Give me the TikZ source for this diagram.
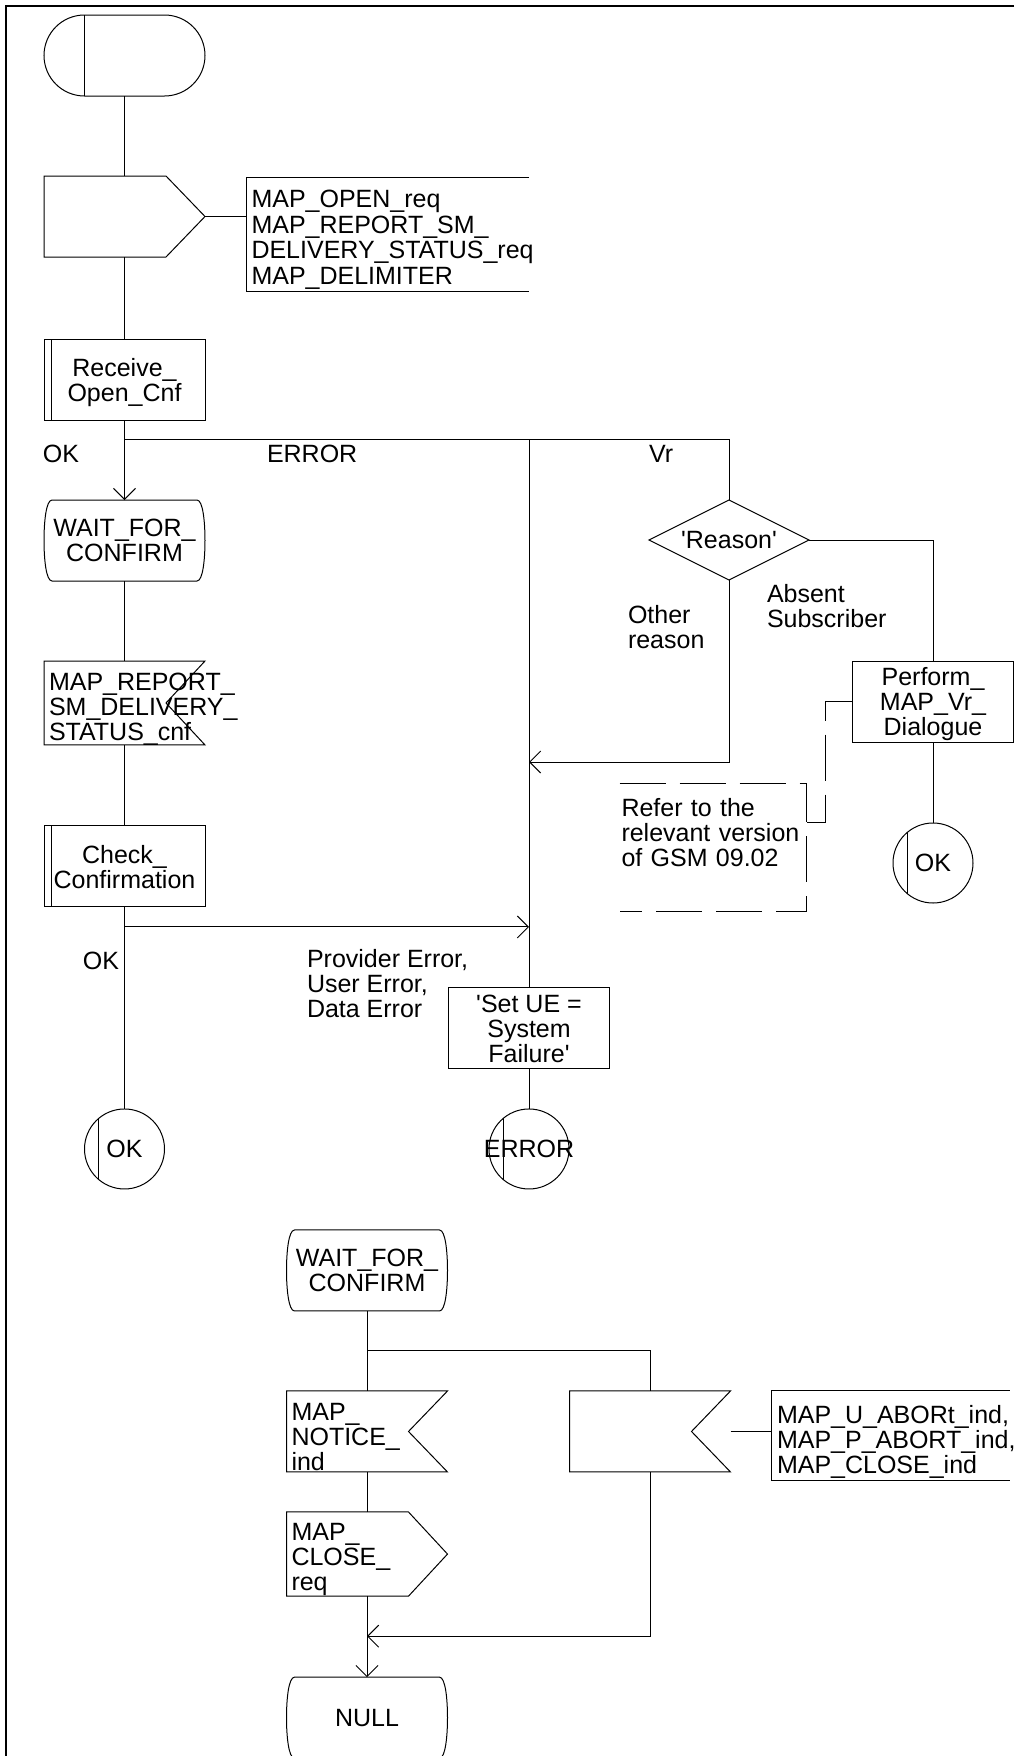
\documentclass[tikz,border=0pt]{standalone}
\usepackage{fontspec}
\setmainfont{Liberation Sans}
\usetikzlibrary{arrows.meta,positioning,shapes.geometric}
\hyphenpenalty=10000
\exhyphenpenalty=10000

\begin{document}
\begin{tikzpicture}[
    line width=0.5pt,
    font=\fontsize{12.5pt}{12.5pt}\selectfont,
    node distance=40.5pt,
    base/.style={inner sep=0pt, outer sep=0pt, minimum width=80.5pt, minimum height=40.5pt, align=center},
    startbox/.style={base, draw, rounded corners=20.25pt, path picture={\draw ([xshift=20.25pt]path picture bounding box.north west) -- ([xshift=20.25pt]path picture bounding box.south west);}},
    statebox/.style={base, text depth=0pt, append after command={\pgfextra{\pgfinterruptpath
        \draw ([xshift=4pt]\tikzlastnode.north west) -- ([xshift=-4pt]\tikzlastnode.north east)
          .. controls +(3pt,0) and +(0,9pt) .. (\tikzlastnode.east)
          .. controls +(0,-9pt) and +(3pt,0) .. ([xshift=-4pt]\tikzlastnode.south east)
          -- ([xshift=4pt]\tikzlastnode.south west)
          .. controls +(-3pt,0) and +(0,-9pt) .. (\tikzlastnode.west)
          .. controls +(0,9pt) and +(-3pt,0) .. ([xshift=4pt]\tikzlastnode.north west) -- cycle;
        \endpgfinterruptpath}}},
    sigbase/.style={base, inner xsep=2.5pt, text width=75.5pt, text height=14.5pt, align=left},
    inp/.style={sigbase, append after command={\pgfextra{\pgfinterruptpath
        \draw (\tikzlastnode.north west) -- (\tikzlastnode.north east) -- ([xshift=-19.5pt]\tikzlastnode.east)
          -- (\tikzlastnode.south east) -- (\tikzlastnode.south west) -- cycle;
        \endpgfinterruptpath}}},
    outp/.style={sigbase, append after command={\pgfextra{\pgfinterruptpath
        \draw (\tikzlastnode.north west) -- ([xshift=-19.5pt]\tikzlastnode.north east) -- (\tikzlastnode.east)
          -- ([xshift=-19.5pt]\tikzlastnode.south east) -- (\tikzlastnode.south west) -- cycle;
        \endpgfinterruptpath}}},
    procbox/.style={base, draw, text depth=0pt, path picture={\draw ([xshift=3.5pt]path picture bounding box.north west) -- ([xshift=3.5pt]path picture bounding box.south west);}},
    taskbox/.style={base, draw, text depth=0pt},
    decision/.style={draw, diamond, aspect=2, inner sep=0pt, outer sep=0pt, minimum width=80pt, minimum height=40pt},
    conn/.style={draw, circle, inner sep=0pt, outer sep=0pt, minimum size=40pt, path picture={\draw ([xshift=-13pt]path picture bounding box.center) ++(0,-20pt) -- ++(0,40pt);}},
    note/.style={inner xsep=2.75pt, inner ysep=0pt, outer sep=0pt, text height=14.5pt, align=left, append after command={\pgfextra{\pgfinterruptpath
        \draw (\tikzlastnode.north east) -- (\tikzlastnode.north west) -- (\tikzlastnode.south west) -- (\tikzlastnode.south east);
        \endpgfinterruptpath}}},
    refnote/.style={inner xsep=1pt, inner ysep=0pt, outer sep=0pt, text width=91.5pt, minimum height=64pt, align=left, append after command={\pgfextra{\pgfinterruptpath
        \draw[dashline] (\tikzlastnode.north west) -- (\tikzlastnode.north east) -- (\tikzlastnode.south east) -- (\tikzlastnode.south west);
        \endpgfinterruptpath}}},
    lbl/.style={inner sep=0pt, outer sep=0pt, align=left},
    arr/.style={-{Straight Barb[length=5.5pt,width=11pt]}},
    dashline/.style={dash pattern=on 23pt off 7pt}
]
\useasboundingbox (0,0) rectangle (507pt,-878pt);
\draw[line width=1pt] (507pt,-3pt) -| (3pt,-878pt);

\node[startbox] (start) at (62.25pt,-27.75pt) {};
\node[outp, below=40pt of start] (openReq) {};
\node[note, text width=136pt, minimum height=57pt, font=\fontsize{12.5pt}{12.7pt}\selectfont, below right=0.5pt and 20.5pt of openReq.north east] (openSig) {MAP\_OPEN\_req\\MAP\_REPORT\_SM\_\\DELIVERY\_STATUS\_req\\MAP\_DELIMITER};
\node[procbox, below=41pt of openReq] (openCnf) {Receive\_\\Open\_Cnf};
\node[statebox, below=40pt of openCnf] (waitA) {WAIT\_FOR\_\\CONFIRM};
\node[inp, below=40pt of waitA] (reportCnf) {MAP\_REPORT\_\\SM\_DELIVERY\_\\STATUS\_cnf};
\node[procbox, below=40.5pt of reportCnf] (checkCnf) {Check\_\\Confirmation};
\node[conn, below=101pt of checkCnf] (okA) {OK};

\coordinate[below=9.5pt of openCnf] (brOpen);
\coordinate[right=202.25pt of brOpen] (brErr);
\coordinate[right=302.25pt of brOpen] (brVr);
\coordinate[below=10pt of checkCnf] (brCheck);
\coordinate[right=202.25pt of brCheck] (errJoin);
\coordinate[below=161.5pt of brErr] (otherJoin);

\node[decision, below=30.5pt of brVr] (reason) {\textquotesingle Reason\textquotesingle};
\node[taskbox, below=40.5pt of reason, xshift=102pt] (vrDlg) {Perform\_\\MAP\_Vr\_\\Dialogue};
\node[conn, below=40.5pt of vrDlg] (okB) {OK};
\node[refnote, below left=20.5pt and 23pt of vrDlg.south west] (refer) {Refer to the\\relevant version\\of GSM 09.02\rule[-15pt]{0pt}{0pt}};
\node[taskbox, below=30.5pt of errJoin] (setUE) {\textquotesingle Set UE =\\System\\Failure\textquotesingle};
\node[conn, below=20pt of setUE] (errC) {\makebox[0pt]{ERROR}};

\node[lbl, below left=11.5pt and 22.75pt of brOpen, anchor=base east] (okLbl) {OK};
\node[lbl, below right=11.5pt and 71.25pt of brOpen, anchor=base west] (errLbl) {ERROR};
\node[lbl, below left=11.5pt and 40pt of brVr, anchor=base west] (vrLbl) {Vr};
\node[lbl, below left=34pt and 50.5pt of reason.south, anchor=base west] (otherLbl) {Other\\reason};
\node[lbl, below right=23.5pt and 19pt of reason.south, anchor=base west] (absentLbl) {Absent\\Subscriber};
\node[lbl, below left=21.5pt and 2.75pt of brCheck, anchor=base east] (okLbl2) {OK};
\node[lbl, below right=45.5pt and 91.25pt of brCheck, anchor=base west] (provLbl) {Provider Error,\\User Error,\\Data Error};

\node[statebox, below=20.5pt of okA, xshift=121.25pt] (waitB) {WAIT\_FOR\_\\CONFIRM};
\coordinate[below=20pt of waitB] (brWait);
\node[inp, below=40pt of waitB] (noticeInd) {MAP\_\\NOTICE\_\\ind};
\node[inp, right=61pt of noticeInd] (abortInd) {};
\node[note, text width=113.5pt, minimum height=45pt, right=20.5pt of abortInd.north east, anchor=north west] (abortSig) {MAP\_U\_ABORt\_ind,\\MAP\_P\_ABORT\_ind,\\MAP\_CLOSE\_ind};
\node[outp, below=20pt of noticeInd] (closeReq) {MAP\_\\CLOSE\_\\req};
\coordinate[below=20pt of closeReq] (nullJoin);
\node[statebox, below=40.5pt of closeReq] (null) {NULL};

\draw (start) -- (openReq);
\draw (openReq.east) -- (openReq.east -| openSig.west);
\draw (openReq) -- (openCnf);
\draw[arr] (openCnf) -- (waitA);
\draw (brOpen) -- (brVr) -- (reason.north);
\draw (brErr) -- (setUE);
\draw (waitA) -- (reportCnf);
\draw (reportCnf) -- (checkCnf);
\draw (checkCnf) -- (okA);
\draw[arr] (brCheck) -- (errJoin);
\draw (setUE) -- (errC);
\draw (reason.east) -| (vrDlg.north);
\draw (vrDlg) -- (okB);
\draw[arr] (reason.south) |- (otherJoin);
\draw[dashline] (vrDlg.west) -- ++(-13.5pt,0) |- ([yshift=-19.5pt]refer.north east);
\draw (waitB) -- (noticeInd);
\draw (brWait) -| (abortInd.north);
\draw (abortInd.east) -- (abortInd.east -| abortSig.west);
\draw (noticeInd) -- (closeReq);
\draw[arr] (closeReq) -- (null);
\draw[arr] (abortInd.south) |- (nullJoin);
\end{tikzpicture}
\end{document}
